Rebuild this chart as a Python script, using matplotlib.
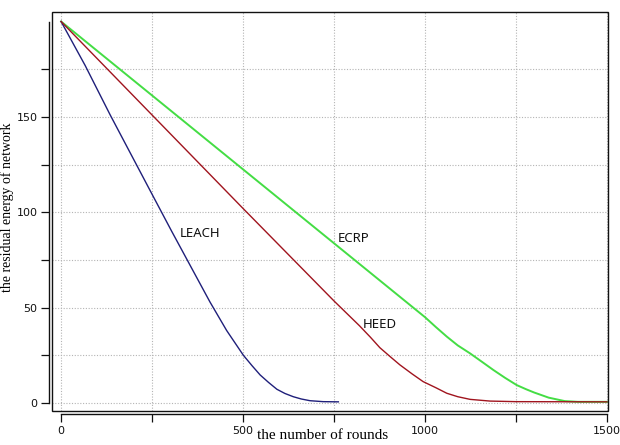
import matplotlib
matplotlib.use("Agg")
import matplotlib.pyplot as plt
from matplotlib.patches import Rectangle
from matplotlib.ticker import FixedLocator, FixedFormatter

# ---- data ----
leach_rounds = [0, 66, 135, 254, 304, 409, 455, 501, 525, 547, 570, 593, 615, 638, 660, 684, 720, 762]
leach_energy = [200, 177, 151, 108, 90, 53, 38, 25, 19.5, 14.7, 10.8, 7.2, 5.0, 3.3, 2.1, 1.2, 0.7, 0.6]

heed_rounds = [0, 500, 750, 820, 850, 876, 905, 931, 965, 995, 1030, 1060, 1090, 1124, 1179, 1250, 1500]
heed_energy = [200, 102, 53.5, 40.5, 34.5, 29, 24.2, 20, 15.2, 11.2, 8.0, 5.1, 3.3, 1.9, 1.0, 0.7, 0.6]

ecrp_rounds = [0, 600, 1000, 1030, 1060, 1090, 1124, 1158, 1188, 1220, 1252, 1278, 1300, 1340, 1384, 1420, 1500]
ecrp_energy = [200, 107, 45, 39.8, 34.8, 30.2, 26, 21.4, 17.3, 13.2, 9.4, 7.2, 5.5, 2.8, 1.0, 0.6, 0.6]

series_names = ["LEACH", "HEED", "ECRP"]
label_pos = {"LEACH": (327, 89), "ECRP": (761, 86.5), "HEED": (830, 41)}

x_ticks = [0, 250, 500, 750, 1000, 1250, 1500]
x_tick_labels = ["0", "", "500", "", "1000", "", "1500"]
y_ticks = [0, 25, 50, 75, 100, 125, 150, 175]
y_tick_labels = ["0", "", "50", "", "100", "", "150", ""]

xlabel = "the number of rounds"
ylabel = "the residual energy of network"

# ---- figure ----
fig = plt.figure(figsize=(6.2, 4.45), dpi=100)
ax = fig.add_axes([52 / 620, 1 - 411 / 445, (608 - 52) / 620, (411 - 12) / 445])

ax.set_xlim(-25, 1503)
ax.set_ylim(-4.2, 205)

colors = {"LEACH": "#1f1f7a", "HEED": "#a0141e", "ECRP": "#44dd44"}
ax.plot(leach_rounds, leach_energy, color=colors["LEACH"], lw=1.0, zorder=3)
ax.plot(heed_rounds, heed_energy, color=colors["HEED"], lw=1.0, zorder=3)
ax.plot(ecrp_rounds, ecrp_energy, color=colors["ECRP"], lw=1.4, zorder=2)

for name in series_names:
    x, y = label_pos[name]
    ax.text(x, y, name, fontsize=9.5, family=["Noto Sans", "DejaVu Sans"],
            ha="left", va="center", color="#111111")

# ticks and grid
ax.xaxis.set_major_locator(FixedLocator(x_ticks))
ax.xaxis.set_major_formatter(FixedFormatter(x_tick_labels))
ax.yaxis.set_major_locator(FixedLocator(y_ticks))
ax.yaxis.set_major_formatter(FixedFormatter(y_tick_labels))
ax.grid(True, color="#b4b4b4", linestyle=(0, (1, 1.5)), lw=0.8)
ax.set_axisbelow(True)

tick_font = ["Liberation Sans Narrow", "DejaVu Sans"]
ax.tick_params(axis="both", direction="out", length=6, width=0.9, colors="#111111",
               labelsize=8, pad=2)
for lab in ax.get_xticklabels() + ax.get_yticklabels():
    lab.set_family(tick_font)

# detached R-style axes
ax.spines["left"].set_position(("outward", 2.5))
ax.spines["bottom"].set_position(("outward", 2.5))
ax.spines["left"].set_bounds(0, 200)
ax.spines["bottom"].set_bounds(0, 1500)
ax.spines["top"].set_visible(False)
ax.spines["right"].set_visible(False)
for s in ("left", "bottom"):
    ax.spines[s].set_linewidth(1.0)
    ax.spines[s].set_color("#111111")

box = Rectangle((0, 0), 1, 1, transform=ax.transAxes, fill=False,
                lw=1.0, edgecolor="#111111", clip_on=False, zorder=5)
ax.add_patch(box)

serif = ["Liberation Serif", "DejaVu Serif"]
ax.set_xlabel(xlabel, family=serif, fontsize=11)
ax.xaxis.set_label_coords(0.487, -0.046)
ax.set_ylabel(ylabel, family=serif, fontsize=10)
ax.yaxis.set_label_coords(-0.068, 0.51)

fig.savefig("out.png", dpi=100)
